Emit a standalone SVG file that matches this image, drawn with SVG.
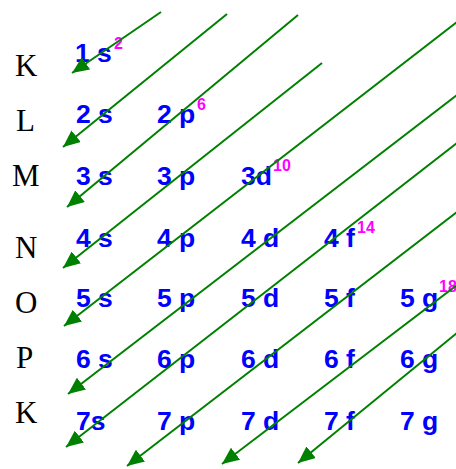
<svg xmlns="http://www.w3.org/2000/svg" width="456" height="469" viewBox="0 0 456 469">
<style>
.shell{font-family:"Liberation Serif","Times New Roman",serif;font-size:31px;fill:#000}
.orb{font-family:"Liberation Sans",Arial,sans-serif;font-weight:bold;font-size:26.5px;fill:#0000ff}
.sup{font-family:"Liberation Sans",Arial,sans-serif;font-weight:bold;font-size:16px;fill:#ff00ff}
.arr{stroke:#008000;stroke-width:2;fill:none;marker-end:url(#ah)}
</style>
<defs>
<marker id="ah" markerUnits="userSpaceOnUse" markerWidth="17" markerHeight="15" refX="17" refY="7.5" orient="auto">
<path d="M0,0 L17,7.5 L0,15 z" fill="#008000"/>
</marker>
</defs>
<g id="shells">
<text id="shK1" class="shell" x="15" y="76">K</text>
<text id="shL" class="shell" x="16" y="131">L</text>
<text id="shM" class="shell" x="12" y="186">M</text>
<text id="shN" class="shell" x="15" y="258">N</text>
<text id="shO" class="shell" x="15" y="313">O</text>
<text id="shP" class="shell" x="16" y="368">P</text>
<text id="shK2" class="shell" x="15" y="423">K</text>
</g>
<g id="orbitals">
<g id="o1s"><text class="orb" x="75" y="62">1 s</text><text class="sup" x="114" y="49">2</text></g>
<g id="o2s"><text class="orb" x="76" y="123">2 s</text></g>
<g id="o2p"><text class="orb" x="157" y="123">2 p</text><text class="sup" x="197" y="110">6</text></g>
<g id="o3s"><text class="orb" x="76" y="185">3 s</text></g>
<g id="o3p"><text class="orb" x="157" y="185">3 p</text></g>
<g id="o3d"><text class="orb" x="241" y="185">3d</text><text class="sup" x="273" y="171">10</text></g>
<g id="o4s"><text class="orb" x="76" y="247">4 s</text></g>
<g id="o4p"><text class="orb" x="157" y="247">4 p</text></g>
<g id="o4d"><text class="orb" x="241" y="247">4 d</text></g>
<g id="o4f"><text class="orb" x="324" y="247">4 f</text><text class="sup" x="357" y="233">14</text></g>
<g id="o5s"><text class="orb" x="76" y="307">5 s</text></g>
<g id="o5p"><text class="orb" x="157" y="307">5 p</text></g>
<g id="o5d"><text class="orb" x="241" y="307">5 d</text></g>
<g id="o5f"><text class="orb" x="324" y="307">5 f</text></g>
<g id="o5g"><text class="orb" x="400" y="307">5 g</text><text class="sup" x="439" y="292">18</text></g>
<g id="o6s"><text class="orb" x="76" y="368">6 s</text></g>
<g id="o6p"><text class="orb" x="157" y="368">6 p</text></g>
<g id="o6d"><text class="orb" x="241" y="368">6 d</text></g>
<g id="o6f"><text class="orb" x="324" y="368">6 f</text></g>
<g id="o6g"><text class="orb" x="400" y="368">6 g</text></g>
<g id="o7s"><text class="orb" x="76" y="430">7s</text></g>
<g id="o7p"><text class="orb" x="157" y="430">7 p</text></g>
<g id="o7d"><text class="orb" x="241" y="430">7 d</text></g>
<g id="o7f"><text class="orb" x="324" y="430">7 f</text></g>
<g id="o7g"><text class="orb" x="400" y="430">7 g</text></g>
</g>
<g id="connectors">
<line class="arr" x1="161" y1="12" x2="72" y2="73"/>
<line class="arr" x1="227" y1="14" x2="63" y2="147"/>
<line class="arr" x1="298" y1="15" x2="67" y2="207"/>
<line class="arr" x1="322" y1="63" x2="63" y2="268"/>
<line class="arr" x1="457" y1="22" x2="64" y2="326"/>
<line class="arr" x1="457" y1="95" x2="68" y2="394"/>
<line class="arr" x1="457" y1="143" x2="66" y2="447"/>
<line class="arr" x1="457" y1="212" x2="127" y2="466"/>
<line class="arr" x1="457" y1="285" x2="222" y2="464"/>
<line class="arr" x1="457" y1="333" x2="298" y2="463"/>
</g>
</svg>
